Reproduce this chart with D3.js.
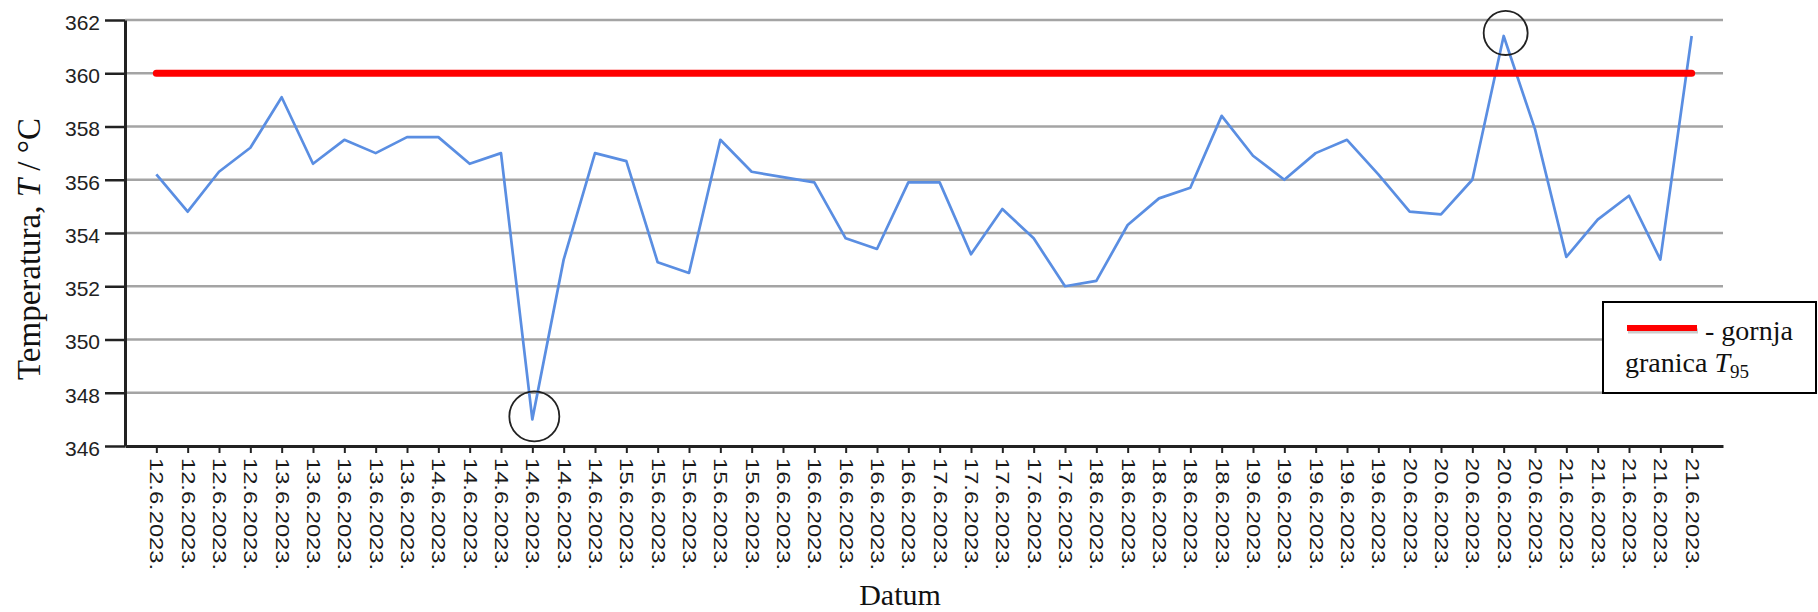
<!DOCTYPE html>
<html>
<head>
<meta charset="utf-8">
<script src="https://cdn.jsdelivr.net/npm/d3@7"></script>
<style>
  body { margin: 0; background: #fff; }
  svg { display: block; }
</style>
</head>
<body>
<div id="chart"></div>
<script>
// datumi mjerenja (po jedna oznaka za svaku tocku)
let dates = [
  "12.6.2023.", "12.6.2023.", "12.6.2023.", "12.6.2023.",
  "13.6.2023.", "13.6.2023.", "13.6.2023.", "13.6.2023.", "13.6.2023.",
  "14.6.2023.", "14.6.2023.", "14.6.2023.", "14.6.2023.", "14.6.2023.", "14.6.2023.",
  "15.6.2023.", "15.6.2023.", "15.6.2023.", "15.6.2023.", "15.6.2023.",
  "16.6.2023.", "16.6.2023.", "16.6.2023.", "16.6.2023.", "16.6.2023.",
  "17.6.2023.", "17.6.2023.", "17.6.2023.", "17.6.2023.", "17.6.2023.",
  "18.6.2023.", "18.6.2023.", "18.6.2023.", "18.6.2023.", "18.6.2023.",
  "19.6.2023.", "19.6.2023.", "19.6.2023.", "19.6.2023.", "19.6.2023.",
  "20.6.2023.", "20.6.2023.", "20.6.2023.", "20.6.2023.", "20.6.2023.",
  "21.6.2023.", "21.6.2023.", "21.6.2023.", "21.6.2023.", "21.6.2023."
];

// izmjerena temperatura, °C
let temps = [
  356.2, 354.8, 356.3, 357.2, 359.1, 356.6, 357.5, 357.0, 357.6, 357.6,
  356.6, 357.0, 347.0, 353.0, 357.0, 356.7, 352.9, 352.5, 357.5, 356.3,
  356.1, 355.9, 353.8, 353.4, 355.9, 355.9, 353.2, 354.9, 353.8, 352.0,
  352.2, 354.3, 355.3, 355.7, 358.4, 356.9, 356.0, 357.0, 357.5, 356.2,
  354.8, 354.7, 356.0, 361.4, 357.9, 353.1, 354.5, 355.4, 353.0, 361.4
];

// gornja granica T95
let upperLimit = 360;

let yTicks = [346, 348, 350, 352, 354, 356, 358, 360, 362];

// zaokruzene tocke (indeks tocke i polumjer kruga)
let marked = [
  { index: 12, r: 25 },
  { index: 43, r: 22 }
];

let width = 1818,
  height = 612,
  plotLeft = 125,
  plotRight = 1723,
  plotTop = 20,
  plotBottom = 446;

let svg = d3.select("#chart").append("svg").attr("width", width).attr("height", height);

let x = d3.scalePoint()
  .domain(d3.range(dates.length))
  .range([plotLeft, plotRight])
  .padding(1);

let y = d3.scaleLinear()
  .domain([d3.min(yTicks), d3.max(yTicks)])
  .range([plotBottom, plotTop]);

// horizontalne linije mreze
svg.append("g")
  .selectAll("line")
  .data(yTicks.slice(1))
  .enter().append("line")
  .attr("x1", plotLeft)
  .attr("x2", plotRight)
  .attr("y1", function(d) { return y(d); })
  .attr("y2", function(d) { return y(d); })
  .attr("stroke", "#a4a4a4")
  .attr("stroke-width", 2.5);

// temperatura
let line = d3.line()
  .x(function(d, i) { return x(i); })
  .y(function(d) { return y(d); });

svg.append("path")
  .datum(temps)
  .attr("d", line)
  .attr("fill", "none")
  .attr("stroke", "#5a8ee2")
  .attr("stroke-width", 2.7)
  .attr("stroke-linejoin", "round");

// granica
svg.append("line")
  .attr("x1", x(0))
  .attr("x2", x(dates.length - 1))
  .attr("y1", y(upperLimit))
  .attr("y2", y(upperLimit))
  .attr("stroke", "#ff0000")
  .attr("stroke-width", 7)
  .attr("stroke-linecap", "round");

// krugovi oko ekstrema
svg.append("g")
  .selectAll("circle")
  .data(marked)
  .enter().append("circle")
  .attr("cx", function(d) { return x(d.index) + 2; })
  .attr("cy", function(d) { return y(temps[d.index]) - 3; })
  .attr("r", function(d) { return d.r; })
  .attr("fill", "none")
  .attr("stroke", "#222")
  .attr("stroke-width", 1.8);

// os y
let yAxis = svg.append("g")
  .attr("transform", "translate(" + plotLeft + ",0)")
  .call(d3.axisLeft(y).tickValues(yTicks).tickSize(20).tickSizeOuter(0).tickPadding(5));

yAxis.select(".domain").attr("stroke", "#222").attr("stroke-width", 3);
yAxis.selectAll(".tick line").attr("stroke", "#222").attr("stroke-width", 2.5);
yAxis.selectAll(".tick text")
  .attr("dy", "0.45em")
  .attr("fill", "#222")
  .style("font-family", "'Liberation Sans', Arial, sans-serif")
  .style("font-size", "21px");

// os x
let xAxis = svg.append("g")
  .attr("transform", "translate(0," + plotBottom + ")")
  .call(d3.axisBottom(x).tickSize(7).tickSizeOuter(0).tickFormat(function(i) { return dates[i]; }));

xAxis.select(".domain").attr("stroke", "#222").attr("stroke-width", 3);
xAxis.selectAll(".tick line").attr("stroke", "#222").attr("stroke-width", 2);
xAxis.selectAll(".tick text")
  .attr("transform", "rotate(90)")
  .attr("x", 12)
  .attr("y", 0)
  .attr("dy", "0.36em")
  .attr("text-anchor", "start")
  .attr("textLength", 112)
  .attr("lengthAdjust", "spacingAndGlyphs")
  .attr("fill", "#1a1a1a")
  .style("font-family", "'Liberation Sans', Arial, sans-serif")
  .style("font-size", "18px");

// naslovi osi
let yTitle = svg.append("text")
  .attr("transform", "translate(40,249) rotate(-90)")
  .attr("text-anchor", "middle")
  .style("font-family", "'Liberation Serif', 'Times New Roman', serif")
  .style("font-size", "33px")
  .attr("fill", "#111");
yTitle.append("tspan").text("Temperatura, ");
yTitle.append("tspan").style("font-style", "italic").text("T");
yTitle.append("tspan").text(" / °C");

svg.append("text")
  .attr("x", 900)
  .attr("y", 605)
  .attr("text-anchor", "middle")
  .style("font-family", "'Liberation Serif', 'Times New Roman', serif")
  .style("font-size", "30px")
  .attr("fill", "#111")
  .text("Datum");

// legenda
let legend = svg.append("g").attr("transform", "translate(1603,302)");

legend.append("rect")
  .attr("width", 213)
  .attr("height", 91)
  .attr("fill", "#fff")
  .attr("stroke", "#000")
  .attr("stroke-width", 2);

legend.append("line")
  .attr("x1", 25).attr("x2", 95)
  .attr("y1", 29).attr("y2", 29)
  .attr("stroke", "#ccc")
  .attr("stroke-width", 5);

legend.append("line")
  .attr("x1", 24).attr("x2", 94)
  .attr("y1", 26).attr("y2", 26)
  .attr("stroke", "#ff0000")
  .attr("stroke-width", 6);

legend.append("text")
  .attr("x", 102)
  .attr("y", 38)
  .style("font-family", "'Liberation Serif', 'Times New Roman', serif")
  .style("font-size", "28px")
  .attr("fill", "#111")
  .text("- gornja");

let lg2 = legend.append("text")
  .attr("x", 22)
  .attr("y", 70)
  .style("font-family", "'Liberation Serif', 'Times New Roman', serif")
  .style("font-size", "28px")
  .attr("fill", "#111");
lg2.append("tspan").text("granica ");
lg2.append("tspan").style("font-style", "italic").text("T");
lg2.append("tspan").attr("dy", 6).style("font-size", "19px").text("95");
</script>
</body>
</html>
